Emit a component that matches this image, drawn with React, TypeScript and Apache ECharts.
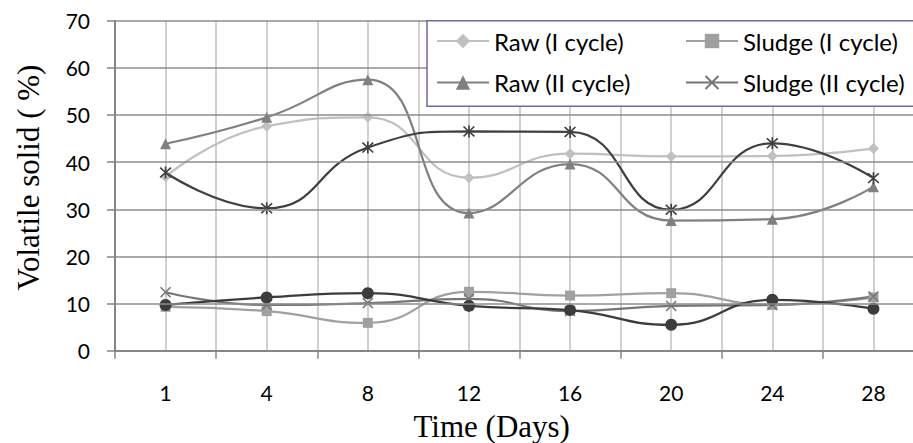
import React, { useEffect, useRef } from "react";
import * as echarts from "echarts";

const days = ["1", "4", "8", "12", "16", "20", "24", "28"];
const rawI = [36.9, 47.6, 49.5, 36.7, 41.8, 41.2, 41.3, 42.9];
const sludgeI = [9.3, 8.4, 5.9, 12.5, 11.7, 12.2, 9.7, 11.3];
const rawII = [43.9, 49.5, 57.5, 29.2, 39.6, 27.6, 27.9, 34.8];
const sludgeII = [12.4, 9.7, 10.1, 11.0, 8.4, 9.5, 9.7, 11.5];
const rawIII = [37.8, 30.2, 43.1, 46.5, 46.4, 29.9, 44.0, 36.6];
const sludgeIII = [9.7, 11.3, 12.2, 9.5, 8.6, 5.5, 10.8, 8.9];

const xTitle = "Time (Days)";
const yTitle = "Volatile solid ( %)";

const X_PATH =
  "path://M1,0 L5,4 L9,0 L10,1 L6,5 L10,9 L9,10 L5,6 L1,10 L0,9 L4,5 L0,1 Z";
const STAR_PATH =
  "path://M1,0 L5,4 L9,0 L10,1 L6,5 L10,9 L9,10 L5,6 L1,10 L0,9 L4,5 L0,1 Z M4.3,-0.5 L5.7,-0.5 L5.7,10.5 L4.3,10.5 Z";

export default function App() {
  const ref = useRef<HTMLDivElement>(null);
  useEffect(() => {
    if (!ref.current) return;
    const chart = echarts.init(ref.current, null, { renderer: "svg" });
    const mk = (name: string, data: number[], color: string, symbol: string, size: number) => ({
      name,
      type: "line",
      data,
      smooth: 0.5,
      symbol,
      symbolSize: size,
      showAllSymbol: true,
      lineStyle: { color, width: 2.25 },
      itemStyle: { color },
      z: 2,
    });
    const legendCommon = {
      orient: "vertical",
      top: 29,
      padding: 0,
      itemWidth: 52,
      itemHeight: 18,
      itemGap: 17.5,
      selectedMode: false,
      textStyle: { fontFamily: "Lato", fontSize: 24, color: "#000", lineHeight: 24 },
      z: 5,
    };
    chart.setOption({
      animation: false,
      backgroundColor: "#ffffff",
      textStyle: { fontFamily: "Lato" },
      grid: {
        left: 115,
        top: 20.7,
        bottom: 92.3,
        right: -11,
        containLabel: false,
        outerBoundsMode: "none",
      },
      xAxis: [
        {
          type: "category",
          data: days,
          boundaryGap: true,
          axisLine: { lineStyle: { color: "#868686", width: 2 } },
          axisTick: { show: true, length: 8, lineStyle: { color: "#868686", width: 1.5 } },
          axisLabel: { color: "#000", fontSize: 21, fontFamily: "Lato", margin: 31 },
          splitLine: { show: false },
          z: 3,
        },
        {
          type: "value",
          min: 0,
          max: 16,
          interval: 1,
          position: "top",
          axisLine: { show: false },
          axisTick: { show: false },
          axisLabel: { show: false },
          splitLine: { show: true, lineStyle: { color: "#c0c0c0", width: 1.5 } },
        },
      ],
      yAxis: {
        type: "value",
        min: 0,
        max: 70,
        interval: 10,
        axisLine: { show: true, lineStyle: { color: "#868686", width: 2 } },
        axisTick: { show: true, length: 8, lineStyle: { color: "#868686", width: 1.5 } },
        axisLabel: { color: "#000", fontSize: 21, fontFamily: "Lato", margin: 25 },
        splitLine: { show: true, lineStyle: { color: "#8c8c8c", width: 1.5 } },
        z: 3,
      },
      legend: [
        { ...legendCommon, data: ["Raw (I cycle)", "Raw (II cycle)"], left: 436 },
        { ...legendCommon, data: ["Sludge (I cycle)", "Sludge (II cycle)"], left: 685 },
      ],
      graphic: [
        {
          type: "rect",
          z: 4,
          shape: { x: 427, y: 20.7, width: 600, height: 85.5 },
          style: { fill: "#ffffff", stroke: "#7b62a0", lineWidth: 1.5 },
        },
        {
          type: "text",
          z: 5,
          x: 491.7,
          y: 426,
          style: {
            text: xTitle,
            font: "31px 'Liberation Serif'",
            fill: "#000",
            textAlign: "center",
            textVerticalAlign: "middle",
          },
        },
        {
          type: "text",
          z: 5,
          x: 28,
          y: 177.5,
          rotation: Math.PI / 2,
          style: {
            text: yTitle,
            font: "31px 'Liberation Serif'",
            fill: "#000",
            textAlign: "center",
            textVerticalAlign: "middle",
          },
        },
      ],
      series: [
        mk("Raw (I cycle)", rawI, "#c0c0c0", "diamond", 11),
        mk("Sludge (I cycle)", sludgeI, "#a0a0a0", "rect", 10),
        mk("Raw (II cycle)", rawII, "#808080", "triangle", 11),
        mk("Sludge (II cycle)", sludgeII, "#767676", X_PATH, 11),
        mk("Raw (III cycle)", rawIII, "#404040", STAR_PATH, 12),
        mk("Sludge (III cycle)", sludgeIII, "#3c3c3c", "circle", 12),
      ],
    });
    return () => chart.dispose();
  }, []);
  return <div ref={ref} style={{ position: "fixed", left: 0, top: 0, width: 913, height: 443 }} />;
}
